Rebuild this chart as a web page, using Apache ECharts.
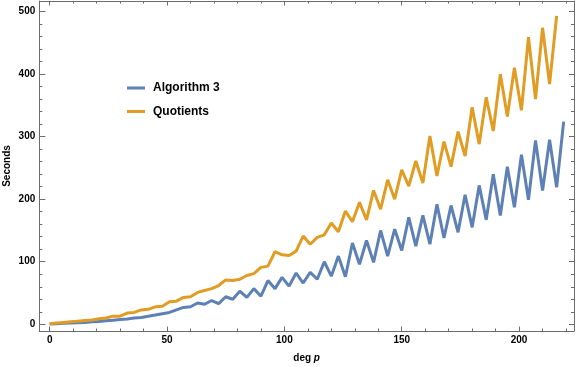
<!DOCTYPE html>
<html>
<head>
<meta charset="utf-8">
<script src="https://cdn.jsdelivr.net/npm/echarts@6/dist/echarts.min.js"></script>
<style>
html,body{margin:0;padding:0;background:#fff}
#chart{width:576px;height:367px}
</style>
</head>
<body>
<div id="chart"></div>
<script>
// deg p (x), step 3
var degValues = [0,3,6,9,12,15,18,21,24,27,30,33,36,39,42,45,48,51,54,57,60,63,66,69,72,75,78,81,84,87,90,93,96,99,
  102,105,108,111,114,117,120,123,126,129,132,135,138,141,144,147,150,153,156,159,162,165,168,171,174,177,180,183,186,189,
  192,195,198,201,204,207,210,213,216,219]

// Algorithm 3, seconds
var algo3Values = [0.5,1,1.5,2,2.5,3,4,4.5,5.5,6.5,7.5,8.5,10,11,13,15,17,19,23,27,28,34,32,38,33,44,40,53,43,57,
  45,70,57,75,61,82,66,83,72,100,77,109,76,130,96,134,99,150,109,152,118,171,125,174,128,192,138,190,147,207,155,222,167,240,
  174,252,187,271,199,294,214,295,219,324]

// Quotients, seconds (one point less)
var quotientValues = [1,2,3,4,5,6,7,9,10,13,13,18,19,23,24,28,29,36,37,43,44,51,54,57,62,71,70,72,78,81,
  91,93,116,111,110,117,141,128,139,143,162,148,181,164,195,167,214,184,231,200,247,221,261,226,301,237,292,252,308,269,
  347,288,363,309,400,332,410,342,459,360,474,384,493]

var xTicks = [0,50,100,150,200]
var xMinorTicks = [10,20,30,40,60,70,80,90,110,120,130,140,160,170,180,190,210,220]
var yTicks = [0,100,200,300,400,500]
var yMinorTicks = [20,40,60,80,120,140,160,180,220,240,260,280,320,340,360,380,420,440,460,480]

var X_MIN = -4.43, X_MAX = 223.4
var Y_MIN = -10.7, Y_MAX = 516.8
var frameColor = '#6b6b6b'
var labelFont = {color:'#000', fontWeight:'bold', fontSize:10, fontFamily:'Liberation Sans, Arial, sans-serif'}

function pairs(xs, ys){
  var out = []
  for (var i = 0; i < ys.length; i++) out.push([xs[i], ys[i]])
  return out
}

// 框线的刻度轴（主刻度 / 次刻度各一条）
function frameAxis(pos, min, max, ticks, len, withLabel, showLine){
  var ax = {
    type:'value', position:pos, min:min, max:max,
    axisLine:{show:showLine, onZero:false, lineStyle:{color:frameColor, width:1}},
    axisTick:{show:true, inside:true, length:len, customValues:ticks, lineStyle:{color:frameColor, width:1}},
    axisLabel:{show:false},
    splitLine:{show:false}
  }
  if (withLabel) {
    ax.axisLabel = Object.assign({show:true, customValues:ticks, margin:4}, labelFont)
  }
  return ax
}

var xMain = frameAxis('bottom', X_MIN, X_MAX, xTicks, 4.5, true, true)
xMain.name = '{a|deg }{b|p}'
xMain.nameLocation = 'middle'
xMain.nameGap = 22
xMain.nameMoveOverlap = false
xMain.nameTextStyle = {
  rich:{
    a:Object.assign({}, labelFont),
    b:Object.assign({fontStyle:'italic'}, labelFont)
  }
}

var yMain = frameAxis('left', Y_MIN, Y_MAX, yTicks, 6, true, true)
yMain.name = 'Seconds'
yMain.nameLocation = 'middle'
yMain.nameGap = 27
yMain.nameMoveOverlap = false
yMain.nameTextStyle = Object.assign({}, labelFont)

var option = {
  animation:false,
  backgroundColor:'#fff',
  grid:{left:39.3, right:2, top:1, bottom:36, containLabel:false, outerBoundsMode:'none'},
  legend:{
    orient:'vertical', left:122, top:76,
    icon:'rect', itemWidth:18, itemHeight:3, itemGap:9.5,
    textStyle:{fontSize:12, fontWeight:'bold', color:'#000', fontFamily:'Liberation Sans, Arial, sans-serif', lineHeight:14, padding:[0,0,0,3]},
    data:['Algorithm 3','Quotients']
  },
  xAxis:[
    xMain,
    frameAxis('bottom', X_MIN, X_MAX, xMinorTicks, 2.5, false, false),
    frameAxis('top', X_MIN, X_MAX, xTicks, 4.5, false, true),
    frameAxis('top', X_MIN, X_MAX, xMinorTicks, 2.5, false, false)
  ],
  yAxis:[
    yMain,
    frameAxis('left', Y_MIN, Y_MAX, yMinorTicks, 3, false, false),
    frameAxis('right', Y_MIN, Y_MAX, yTicks, 5, false, true),
    frameAxis('right', Y_MIN, Y_MAX, yMinorTicks, 3, false, false)
  ],
  series:[
    {
      name:'Algorithm 3', type:'line', xAxisIndex:0, yAxisIndex:0,
      showSymbol:false, symbol:'none',
      lineStyle:{width:3, color:'#5e81b5'}, itemStyle:{color:'#5e81b5'},
      data:pairs(degValues, algo3Values)
    },
    {
      name:'Quotients', type:'line', xAxisIndex:0, yAxisIndex:0,
      showSymbol:false, symbol:'none',
      lineStyle:{width:3, color:'#e19c24'}, itemStyle:{color:'#e19c24'},
      data:pairs(degValues, quotientValues)
    }
  ]
}

var myChart = echarts.init(document.getElementById('chart'))
myChart.setOption(option)
</script>
</body>
</html>
